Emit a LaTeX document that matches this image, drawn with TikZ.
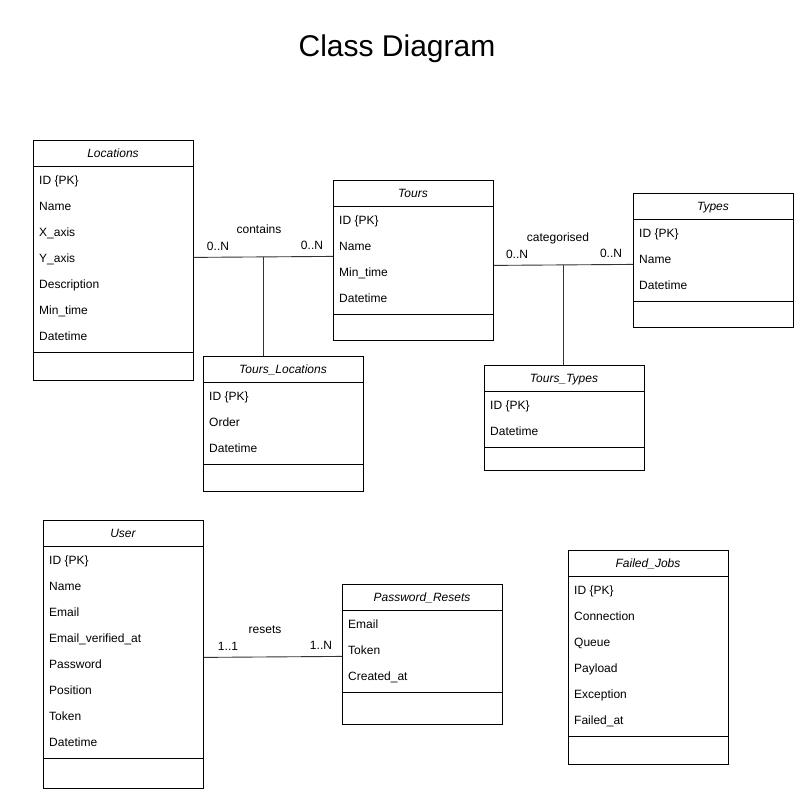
\documentclass[tikz,border=0pt]{standalone}
\usepackage{fontspec}
\setmainfont{Liberation Sans}
\usetikzlibrary{calc}
\tikzset{
  classbox/.style={draw=black, line width=0.8pt, anchor=north west, minimum width=160pt, inner sep=0pt, fill=white},
  txt/.style={font=\fontsize{12}{14}\selectfont, inner sep=0pt, text height=8.6pt, text depth=0pt},
  classtitle/.style={txt, font=\fontsize{12}{14}\selectfont\itshape},
  rowtext/.style={txt, anchor=west},
  assoc/.style={draw=black!80, line width=0.9pt},
  lbl/.style={txt}
}
% #1 name, #2 title, #3 x, #4 ytop, #5 ybottom, #6 rows
\newcommand\umlcls[6]{%
  \foreach \r [count=\i] in {#6} {\xdef\nrowsg{\i}}%
  \pgfmathsetmacro\sepy{#4+26+\nrowsg*26+4}%
  \pgfmathsetmacro\hgt{#5-#4}%
  \node[classbox, minimum height=\hgt pt] (#1) at (#3,#4) {};
  \node[classtitle] (#1-t) at (#3+80,#4+13) {#2};
  \draw[line width=0.8pt] (#3,#4+26) -- (#3+160,#4+26);
  \draw[line width=0.8pt] (#3,\sepy) -- (#3+160,\sepy);
  \foreach \r [count=\i] in {#6} {
    \node[rowtext] (#1-r\i) at (#3+6,#4+40+26*\i-26) {\r};
  }
}
\begin{document}
\begin{tikzpicture}[x=1pt,y=-1pt]
\useasboundingbox (0,0) rectangle (812,789);
\node[font=\fontsize{30}{36}\selectfont, inner sep=0pt, text height=21.5pt, text depth=0pt] (title) at (397,46) {Class Diagram};

\umlcls{loc}{Locations}{33}{140}{380}{ID {\{PK\}},Name,X\_axis,Y\_axis,Description,Min\_time,Datetime}
\umlcls{tours}{Tours}{333}{180}{340}{ID {\{PK\}},Name,Min\_time,Datetime}
\umlcls{types}{Types}{633}{193}{327}{ID {\{PK\}},Name,Datetime}
\umlcls{tl}{Tours\_Locations}{203}{356}{491}{ID {\{PK\}},Order,Datetime}
\umlcls{tt}{Tours\_Types}{484}{365}{470}{ID {\{PK\}},Datetime}
\umlcls{user}{User}{43}{520}{788}{ID {\{PK\}},Name,Email,Email\_verified\_at,Password,Position,Token,Datetime}
\umlcls{pr}{Password\_Resets}{342}{584}{724}{Email,Token,Created\_at}
\umlcls{fj}{Failed\_Jobs}{568}{550}{764}{ID {\{PK\}},Connection,Queue,Payload,Exception,Failed\_at}

% Locations -- Tours
\coordinate (a1) at ([yshift=3pt]loc.east);
\coordinate (b1) at ([yshift=4pt]tours.west);
\draw[assoc] (a1) -- (b1);
\coordinate (m1) at ($(a1)!0.5!(b1)$);
\draw[assoc] (m1) -- (m1 |- tl.north);
\node[lbl] (l1) at (259,229) {contains};
\node[lbl] (l1a) at (218,246) {0..N};
\node[lbl] (l1b) at (312,245) {0..N};

% Tours -- Types
\coordinate (a2) at ([yshift=-5pt]tours.east);
\coordinate (b2) at ([yshift=-4pt]types.west);
\draw[assoc] (a2) -- (b2);
\coordinate (m2) at ($(a2)!0.5!(b2)$);
\draw[assoc] (m2) -- (m2 |- tt.north);
\node[lbl] (l2) at (558,237) {categorised};
\node[lbl] (l2a) at (517,254) {0..N};
\node[lbl] (l2b) at (611,253) {0..N};

% User -- Password_Resets
\coordinate (a3) at ([yshift=-3pt]user.east);
\coordinate (b3) at ([yshift=-2pt]pr.west);
\draw[assoc] (a3) -- (b3);
\node[lbl] (l3) at (265,629) {resets};
\node[lbl] (l3a) at (228,646) {1..1};
\node[lbl] (l3b) at (321,645) {1..N};
\end{tikzpicture}
\end{document}
